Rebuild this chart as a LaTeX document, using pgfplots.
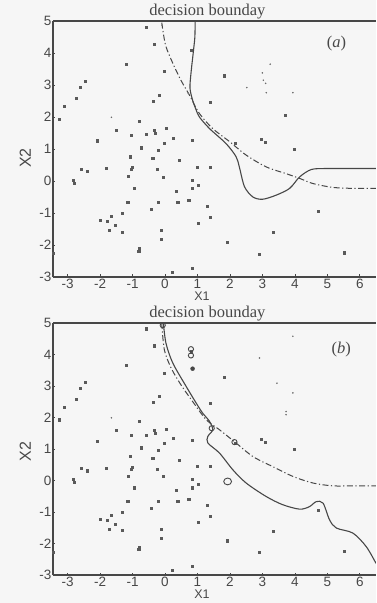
\documentclass[border=0pt]{standalone}
\usepackage{pgfplots}
\pgfplotsset{compat=1.18}
\usepackage{pgfplotstable}
\usepackage{fontspec}
\setmainfont{Liberation Serif}
\setsansfont{Liberation Sans}
\definecolor{ink}{gray}{0.28}
\definecolor{paper}{gray}{0.965}

\pgfplotstableread{
x y
-0.59 4.82
-0.33 4.28
0.80 4.09
-1.20 3.65
-0.02 3.42
-2.47 3.13
-2.61 2.92
-2.73 2.58
-0.17 2.69
-0.36 2.48
-3.11 2.34
-3.26 1.93
1.39 2.46
1.83 3.29
3.99 0.99
2.96 1.30
3.10 1.22
2.16 1.19
0.85 1.28
-0.79 1.88
-1.49 1.59
-1.05 1.43
-0.59 1.45
-0.33 1.59
-0.31 1.49
0.03 1.64
0.26 1.35
-0.02 1.17
-0.72 1.04
-2.08 1.26
-0.20 0.96
-0.38 0.70
-1.08 0.76
0.44 0.65
0.99 0.44
1.39 0.44
-0.24 0.36
-0.05 0.13
-1.00 0.42
-1.05 0.36
-1.12 0.15
-1.80 0.39
-2.59 0.38
-2.39 0.31
-2.83 0.03
-2.80 -0.06
0.85 0.03
1.03 -0.13
0.85 -0.23
-0.95 -0.23
0.34 -0.31
-1.15 -0.65
-0.22 -0.67
0.39 -0.67
0.73 -0.60
1.31 -0.78
-0.43 -0.89
-1.33 -1.02
-1.67 -1.10
-2.00 -1.23
-1.77 -1.25
-1.53 -1.38
-1.72 -1.54
-1.31 -1.59
1.40 -1.14
1.03 -1.31
-0.12 -1.54
-0.12 -1.83
1.91 -1.91
-0.79 -2.11
-0.81 -2.18
3.34 -1.61
2.91 -2.29
4.73 -0.93
5.53 -2.24
0.85 -2.72
0.22 -2.84
-3.43 -2.27
}\pts

\pgfplotstableread{
x y
-0.09 4.87
2.52 2.92
3.00 3.38
3.03 3.15
3.10 3.05
3.12 2.76
3.24 3.65
3.94 2.76
-1.65 1.99
0.72 2.74
}\dotsa

\pgfplotstableread{
x y
3.94 4.58
2.91 3.89
3.45 3.09
3.94 2.78
3.73 2.19
3.73 2.09
-1.65 1.99
}\dotsb

\pgfplotsset{
  myax/.style={
    scale only axis, width=323pt,
    xmin=-3.45, xmax=6.5, ymin=-3, ymax=5,
    xtick={-3,-2,-1,0,1,2,3,4,5,6},
    ytick={-3,-2,-1,0,1,2,3,4,5},
    axis x line=box, axis y line=left,
    x axis line style={-, line width=1.1pt, ink},
    y axis line style={-, line width=1.1pt, ink},
    xtick pos=bottom, ytick pos=left,
    tick style={ink, line width=0.6pt},
    major tick length=2.5pt,
    tick align=inside,
    /pgf/number format/assume math mode=true,
    tick label style={font=\sffamily\fontsize{13.5}{14}\selectfont, text=ink, inner sep=1pt},
    xticklabel style={yshift=-1pt},
    yticklabel style={xshift=-0.5pt},
    title style={font=\fontsize{16.5}{17}\selectfont, text=ink, at={(0.478,1)}, anchor=south, yshift=-5pt, inner sep=1pt},
    xlabel style={font=\sffamily\fontsize{12.5}{12.5}\selectfont, text=ink, at={(ticklabel cs:0.461)}, anchor=north, yshift=-1.5pt, inner sep=0.5pt},
    ylabel style={font=\sffamily\fontsize{16}{16}\selectfont, text=ink, yshift=4pt},
    xlabel={X1}, ylabel={X2},
    title={decision bounday},
    clip=true,
  },
  pt/.style={only marks, mark=square*, mark size=1.05pt, ink!90, mark options={draw=ink!90, fill=ink!90}},
  dt/.style={only marks, mark=*, mark size=0.55pt, ink!80, mark options={draw=ink!80, fill=ink!80}},
}

\begin{document}
\begin{tikzpicture}
\fill[paper] (0pt,0pt) rectangle (376pt,603pt);
\path[use as bounding box] (0pt,0pt) rectangle (376pt,603pt);

% Panel (a)
\begin{axis}[myax, at={(53pt,326pt)}, anchor=south west, height=256pt,
  ylabel style={at={(ticklabel cs:0.465)}}]
\addplot[pt] table {\pts};
\addplot[pt] coordinates {(3.71,2.06)};
\addplot[dt] table {\dotsa};
% solid boundary
\addplot[ink, line width=1.1pt, smooth, tension=0.5] coordinates {
(0.93,5.0) (0.92,4.5) (0.88,4.1) (0.80,3.36) (0.77,2.9) (0.85,2.53) (0.96,2.22)
(1.06,2.0) (1.37,1.64) (1.88,1.17) (2.19,0.76) (2.29,0.44) (2.45,-0.18)
(2.71,-0.50) (3.01,-0.57) (3.43,-0.44) (3.84,-0.23) (4.15,0.13) (4.51,0.36)
(4.97,0.39) (5.6,0.39) (6.5,0.39)};
% dash-dot boundary
\addplot[ink, line width=1.0pt, smooth, tension=0.5, dash pattern=on 6pt off 2.5pt on 1.2pt off 2.5pt] coordinates {
(-0.10,4.95) (-0.05,4.61) (0.03,4.2) (0.24,3.68) (0.49,3.15) (0.75,2.69) (1.06,2.11)
(1.47,1.64) (1.99,1.23) (2.50,0.81) (3.12,0.44) (3.73,0.23) (4.15,0.08)
(4.56,-0.08) (5.17,-0.20) (5.79,-0.23) (6.5,-0.23)};
\node[font=\fontsize{16.5}{17}\selectfont, text=ink] at (axis cs:5.28,4.30) {(\textit{a})};
\end{axis}

% Panel (b)
\begin{axis}[myax, at={(53pt,28pt)}, anchor=south west, height=252pt,
  ylabel style={at={(ticklabel cs:0.49)}}]
\addplot[pt] table {\pts};
\addplot[dt] table {\dotsb};
% support vectors
\addplot[only marks, mark=o, mark size=2.6pt, ink, mark options={line width=0.9pt}] coordinates {
(0.80,4.17) (0.80,3.97) (1.44,1.66) (2.14,1.22) (-0.07,4.93)};
\addplot[only marks, mark=*, mark size=2.0pt, ink] coordinates {(0.85,3.55)};
\addplot[only marks, mark=o, mark size=3.4pt, ink, mark options={line width=0.9pt, xscale=1.15}] coordinates {(1.93,-0.03)};
% solid boundary
\addplot[ink, line width=1.1pt, smooth, tension=0.5] coordinates {
(-0.05,5.0) (0.03,4.36) (0.24,3.73) (0.65,2.99) (0.96,2.46) (1.16,2.14)
(1.37,1.88) (1.47,1.61) (1.32,1.40) (1.32,1.19) (1.68,0.87) (2.09,0.34)
(2.50,-0.08) (3.12,-0.51) (3.63,-0.77) (4.15,-0.91) (4.45,-0.83) (4.66,-0.67)
(4.87,-0.72) (5.07,-1.25) (5.28,-1.51) (5.79,-1.67) (6.2,-2.10) (6.5,-2.63)};
% dash-dot boundary
\addplot[ink, line width=1.0pt, smooth, tension=0.5, dash pattern=on 6pt off 2.5pt on 1.2pt off 2.5pt] coordinates {
(-0.10,5.0) (-0.02,4.15) (0.19,3.57) (0.49,3.04) (0.85,2.51) (1.27,1.93)
(1.68,1.61) (2.19,1.19) (2.71,0.76) (3.32,0.44) (3.94,0.13) (4.56,-0.08)
(5.17,-0.17) (5.8,-0.17) (6.5,-0.17)};
\node[font=\fontsize{16.5}{17}\selectfont, text=ink] at (axis cs:5.43,4.15) {(\textit{b})};
\end{axis}
\end{tikzpicture}
\end{document}
